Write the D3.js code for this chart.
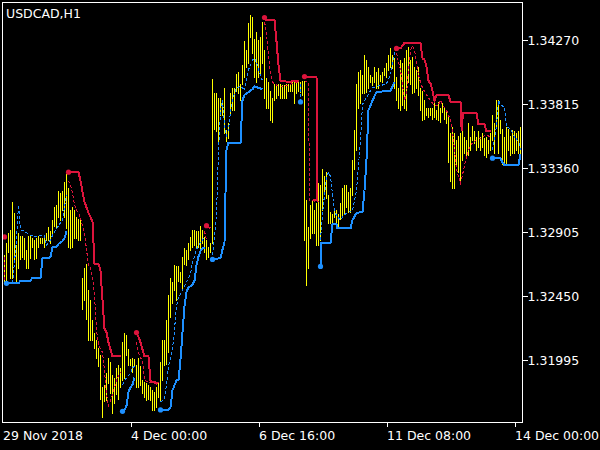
<!DOCTYPE html>
<html><head><meta charset="utf-8">
<script src="https://cdn.jsdelivr.net/npm/d3@7"></script>
<style>html,body{margin:0;padding:0;background:#000;overflow:hidden}svg{display:block}</style>
</head><body>
<svg id="chart" width="600" height="450"></svg>
<script>
const chartTitle = "USDCAD,H1";
const timeTickIndex = [0, 64, 128, 192, 256];
const timeTickLabels = ["29 Nov 2018", "4 Dec 00:00", "6 Dec 16:00", "11 Dec 08:00", "14 Dec 00:00"];
const priceTicks = [1.34270, 1.33815, 1.33360, 1.32905, 1.32450, 1.31995];

const barHigh = [
1.3274,1.3274,1.3283,1.3290,1.3292,1.3312,1.3304,1.3281,1.3290,1.3288,
1.3288,1.3286,1.3278,1.3288,1.3288,1.3286,1.3285,1.3286,1.3288,1.3286,
1.3286,1.3286,1.3290,1.3294,1.3291,1.3299,1.3308,1.3310,1.3320,1.3318,
1.3320,1.3326,1.3332,1.3322,1.3306,1.3308,1.3306,1.3301,1.3300,1.3299,
1.3258,1.3265,1.3268,1.3249,1.3242,1.3228,1.3219,1.3214,1.3208,1.3203,
1.3180,1.3182,1.3190,1.3201,1.3198,1.3189,1.3187,1.3194,1.3196,1.3194,
1.3212,1.3219,1.3217,1.3207,1.3200,1.3201,1.3200,1.3196,1.3201,1.3195,
1.3185,1.3184,1.3183,1.3182,1.3180,1.3178,1.3177,1.3180,1.3184,1.3198,
1.3214,1.3214,1.3228,1.3246,1.3258,1.3255,1.3267,1.3266,1.3266,1.3262,
1.3273,1.3279,1.3278,1.3283,1.3287,1.3292,1.3292,1.3291,1.3291,1.3295,
1.3292,1.3287,1.3285,1.3280,1.3283,1.3399,1.3389,1.3389,1.3386,1.3386,
1.3384,1.3393,1.3363,1.3368,1.3389,1.3393,1.3393,1.3403,1.3404,1.3396,
1.3409,1.3426,1.3420,1.3439,1.3445,1.3443,1.3428,1.3433,1.3427,1.3429,
1.3440,1.3420,1.3400,1.3397,1.3391,1.3386,1.3396,1.3395,1.3396,1.3396,
1.3395,1.3395,1.3396,1.3396,1.3396,1.3398,1.3397,1.3398,1.3398,1.3397,
1.3398,1.3398,1.3313,1.3294,1.3310,1.3313,1.3306,1.3311,1.3325,1.3324,
1.3335,1.3330,1.3333,1.3317,1.3305,1.3303,1.3306,1.3306,1.3303,1.3311,
1.3322,1.3324,1.3324,1.3319,1.3322,1.3342,1.3363,1.3396,1.3404,1.3406,
1.3402,1.3416,1.3413,1.3408,1.3402,1.3401,1.3408,1.3404,1.3407,1.3402,
1.3404,1.3407,1.3411,1.3416,1.3421,1.3416,1.3414,1.3401,1.3393,1.3413,
1.3411,1.3414,1.3420,1.3422,1.3413,1.3415,1.3408,1.3406,1.3408,1.3393,
1.3391,1.3384,1.3379,1.3379,1.3379,1.3379,1.3384,1.3377,1.3383,1.3379,
1.3382,1.3379,1.3377,1.3374,1.3361,1.3365,1.3361,1.3356,1.3359,1.3361,
1.3363,1.3358,1.3356,1.3368,1.3358,1.3366,1.3362,1.3358,1.3362,1.3358,
1.3361,1.3357,1.3358,1.3356,1.3361,1.3374,1.3368,1.3384,1.3384,1.3370,
1.3364,1.3358,1.3365,1.3364,1.3359,1.3363,1.3362,1.3361,1.3362,1.3365];

const barLow = [
1.3255,1.3255,1.3256,1.3276,1.3258,1.3258,1.3269,1.3256,1.3265,1.3271,
1.3273,1.3271,1.3265,1.3265,1.3272,1.3280,1.3271,1.3272,1.3280,1.3283,
1.3283,1.3280,1.3285,1.3285,1.3283,1.3290,1.3295,1.3294,1.3301,1.3299,
1.3306,1.3301,1.3293,1.3280,1.3279,1.3280,1.3286,1.3286,1.3285,1.3285,
1.3236,1.3242,1.3229,1.3214,1.3214,1.3214,1.3208,1.3201,1.3195,1.3172,
1.3159,1.3170,1.3171,1.3183,1.3176,1.3162,1.3169,1.3175,1.3172,1.3180,
1.3185,1.3187,1.3203,1.3196,1.3196,1.3191,1.3195,1.3180,1.3180,1.3182,
1.3176,1.3173,1.3171,1.3172,1.3171,1.3164,1.3164,1.3166,1.3173,1.3170,
1.3185,1.3196,1.3197,1.3205,1.3230,1.3240,1.3249,1.3242,1.3256,1.3255,
1.3251,1.3268,1.3267,1.3271,1.3278,1.3280,1.3281,1.3280,1.3280,1.3278,
1.3283,1.3276,1.3271,1.3273,1.3276,1.3283,1.3364,1.3362,1.3354,1.3374,
1.3374,1.3361,1.3355,1.3357,1.3375,1.3377,1.3377,1.3391,1.3389,1.3384,
1.3396,1.3401,1.3408,1.3411,1.3429,1.3418,1.3401,1.3397,1.3401,1.3402,
1.3411,1.3386,1.3379,1.3379,1.3370,1.3369,1.3384,1.3386,1.3388,1.3386,
1.3386,1.3386,1.3386,1.3391,1.3391,1.3391,1.3382,1.3389,1.3391,1.3390,
1.3388,1.3285,1.3253,1.3265,1.3286,1.3290,1.3290,1.3281,1.3281,1.3285,
1.3306,1.3319,1.3315,1.3297,1.3297,1.3297,1.3301,1.3294,1.3294,1.3300,
1.3301,1.3303,1.3308,1.3305,1.3305,1.3317,1.3335,1.3349,1.3379,1.3382,
1.3389,1.3389,1.3390,1.3393,1.3397,1.3395,1.3397,1.3393,1.3393,1.3398,
1.3397,1.3402,1.3401,1.3406,1.3408,1.3407,1.3393,1.3384,1.3379,1.3377,
1.3381,1.3379,1.3377,1.3397,1.3396,1.3389,1.3390,1.3393,1.3388,1.3377,
1.3370,1.3371,1.3374,1.3372,1.3374,1.3371,1.3372,1.3371,1.3370,1.3369,
1.3376,1.3371,1.3368,1.3340,1.3327,1.3322,1.3322,1.3339,1.3333,1.3325,
1.3342,1.3347,1.3344,1.3345,1.3349,1.3356,1.3354,1.3349,1.3351,1.3349,
1.3351,1.3345,1.3344,1.3347,1.3349,1.3356,1.3347,1.3365,1.3347,1.3361,
1.3339,1.3338,1.3339,1.3349,1.3345,1.3347,1.3347,1.3349,1.3347,1.3347];

// solid stop lines: [bar index, price]
const redStops = [
  [[33,1.3333],[38,1.3333],[39,1.3327],[40,1.3319],[41,1.3312],[42,1.3308],[43,1.3304],[44,1.3301],[45,1.3298],[46,1.3268],[48,1.3268],[49,1.3263],[50,1.3242],[51,1.3222],[52,1.3219],[53,1.3212],[54,1.3207],[55,1.3202],[59,1.3202]],
  [[67,1.3219],[68,1.3216],[69,1.3212],[70,1.3207],[71,1.3202],[73,1.3202],[74,1.3185],[75,1.3184],[78,1.3183]],
  [[102,1.3295],[104,1.3293]],
  [[131,1.3441],[135,1.3441],[136,1.3441],[137,1.3426],[138,1.3409],[139,1.3398],[144,1.3397],[145,1.3398],[148,1.3398]],
  [[151,1.3401],[157,1.3401],[157.5,1.3313],[155,1.3313]],
  [[197,1.3421],[199,1.3421],[201,1.3425],[209,1.3425],[210,1.3414],[211,1.3413],[212,1.3408],[213,1.3398],[214,1.3396],[215,1.3391],[216,1.3384],[217,1.3388],[223,1.3388],[224,1.3383],[229,1.3383],[229.6,1.3362],[230.2,1.3375],[237,1.3375],[238,1.3367],[241,1.3367],[242,1.3362],[244,1.3362]]
];
const blueStops = [
  [[2,1.3254],[8,1.3254],[9,1.3256],[14,1.3256],[15,1.3258],[19,1.3258],[20,1.3272],[23,1.3272],[24,1.3273],[25,1.3280],[27,1.3280],[28,1.3282],[30,1.3284],[31,1.3286],[32,1.3291]],
  [[60,1.3163],[61,1.3164],[62,1.3167],[63,1.3177],[64,1.3180],[65,1.3182],[66,1.3187]],
  [[79,1.3164],[83,1.3164],[84,1.3166],[85,1.3178],[87,1.3185],[88,1.3185],[89,1.3200],[90,1.3219],[91,1.3238],[92,1.3248],[93,1.3251],[95,1.3253],[96,1.3256],[97,1.3267],[98,1.3273],[99,1.3277],[100,1.3279],[101,1.3279]],
  [[105,1.3271],[109,1.3272],[110,1.3278],[111,1.3283],[111.5,1.3318],[112,1.3349],[113,1.3354],[119,1.3354],[120,1.3384],[121,1.3388],[123,1.3390],[125,1.3392],[126,1.3394],[128,1.3393],[130,1.3392]],
  [[159,1.3266],[159.5,1.3283],[164,1.3283],[165,1.3296],[167,1.3296],[167.3,1.3293],[174,1.3293],[175,1.3299],[177,1.3304],[180,1.3305],[181,1.3320],[182,1.3342],[183,1.3377],[185,1.3384],[187,1.3390],[194,1.3391],[195,1.3394],[196,1.3397]],
  [[245,1.3343],[249,1.3343],[250,1.3340],[251,1.3338],[258,1.3338],[259,1.3346]]
];
// dotted signal lines
const redDotted = [
  [[1,1.3273],[1,1.3256]],
  [[33,1.3327],[34,1.3324],[35,1.3318],[36,1.3310],[37,1.3306],[38,1.3304],[39,1.3300],[40,1.3295],[41,1.3290],[42,1.3278],[43,1.3267],[44,1.3265],[45,1.3258],[46,1.3246],[47,1.3221],[48,1.3210],[50,1.3205],[51,1.3192],[52,1.3175],[53,1.3167],[55,1.3175],[57,1.3185],[59,1.3191]],
  [[67,1.3212],[68,1.3205],[69,1.3201],[70,1.3200],[71,1.3185],[73,1.3184],[78,1.3182]],
  [[101,1.3291],[102,1.3285]],
  [[131,1.3440],[132,1.3432],[133,1.3415],[134,1.3404],[135,1.3397],[137,1.3395],[140,1.3394],[143,1.3395],[145,1.3396],[148,1.3397]],
  [[151,1.3398],[153,1.3397],[153.5,1.3313],[158,1.3312]],
  [[197,1.3418],[198,1.3411],[199,1.3406],[200,1.3395],[201,1.3384],[202,1.3388],[203,1.3406],[204,1.3420],[205,1.3423],[206,1.3420],[207,1.3411],[208,1.3402],[209,1.3397],[210,1.3393],[212,1.3388],[214,1.3384],[215,1.3382],[216,1.3380],[218,1.3381],[219,1.3384],[220,1.3381],[222,1.3377],[224,1.3370],[225,1.3362],[226,1.3349],[227,1.3335],[229,1.3325],[230,1.3331],[231,1.3338],[233,1.3349],[235,1.3354],[237,1.3356],[239,1.3357],[241,1.3359],[243,1.3359],[244,1.3357]]
];
const blueDotted = [
  [[5,1.3254],[6,1.3269],[7,1.3285],[8,1.3310],[9,1.3292],[11,1.3291],[14,1.3288],[15,1.3288],[17,1.3287],[19,1.3288],[21,1.3288],[22,1.3281],[24,1.3285],[25,1.3288],[27,1.3293],[28,1.3295],[29,1.3297],[30,1.3299],[31,1.3308],[32,1.3317]],
  [[60,1.3182],[62,1.3187],[64,1.3190],[65,1.3194],[66,1.3195]],
  [[79,1.3170],[81,1.3171],[82,1.3182],[83,1.3195],[85,1.3207],[86,1.3221],[87,1.3238],[88,1.3244],[90,1.3249],[92,1.3255],[94,1.3261],[95,1.3269],[96,1.3273],[97,1.3278],[98,1.3281],[100,1.3285],[101,1.3287]],
  [[105,1.3274],[106,1.3288],[107,1.3303],[108,1.3349],[109,1.3377],[110,1.3384],[111,1.3366],[112,1.3359],[113,1.3363],[114,1.3376],[115,1.3384],[116,1.3389],[117,1.3393],[119,1.3394],[120,1.3393],[121,1.3391],[122,1.3398],[123,1.3406],[124,1.3409],[125,1.3413],[126,1.3414],[127,1.3411],[128,1.3406],[130,1.3398]],
  [[149,1.3396],[149,1.3384]],
  [[159,1.3285],[160,1.3303],[161,1.3317],[162,1.3329],[163,1.3333],[164,1.3330],[165,1.3317],[166,1.3306],[167,1.3302],[169,1.3299],[170,1.3301],[172,1.3304],[174,1.3305],[175,1.3306],[176,1.3313],[177,1.3320],[178,1.3338],[179,1.3356],[180,1.3381],[181,1.3384],[182,1.3386],[184,1.3391],[185,1.3393],[187,1.3394],[190,1.3395],[192,1.3396],[194,1.3402],[195,1.3411],[196,1.3418],[197,1.3418]],
  [[245,1.3349],[246,1.3356],[247,1.3366],[248,1.3384],[249,1.3381],[251,1.3379],[252,1.3365],[254,1.3364],[256,1.3358],[258,1.3355],[259,1.3349]]
];
const redSignals = [[1,1.3287],[33,1.3333],[67,1.3219],[102,1.3295],[131,1.3443],[151,1.3401],[197,1.3421]];
const blueSignals = [[2,1.3254],[60,1.3163],[79,1.3164],[105,1.3271],[149,1.3383],[159,1.3266],[245,1.3343]];

const W = 600, H = 450;
const plotLeft = 2.5, plotRight = 522.5, plotTop = 2.5, plotBottom = 422.5;
const RED = "#dc143c", BLUE = "#1e90ff", YELLOW = "#ffff00", FG = "#ffffff";
const FONT = "'DejaVu Sans', sans-serif";

const svg = d3.select("#chart");
svg.append("rect").attr("width", W).attr("height", H).attr("fill", "#000");

const x = d3.scaleLinear().domain([0, 260]).range([plotLeft, plotRight]);
const y = d3.scaleLinear().domain([1.31995, 1.34270]).range([360, 40]);

const plot = svg.append("g");
plot.append("g").selectAll("line").data(barHigh.map((h, i) => ({i, h, l: barLow[i]})))
  .join("line")
  .attr("x1", d => x(d.i)).attr("x2", d => x(d.i))
  .attr("y1", d => Math.round(y(d.h))).attr("y2", d => Math.round(y(d.l)) + 1)
  .attr("stroke", YELLOW).attr("stroke-width", 1).attr("shape-rendering", "crispEdges");

const line = d3.line().x(d => x(d[0])).y(d => y(d[1]));
function drawLines(sets, color, width, dash) {
  plot.append("g").selectAll("path").data(sets).join("path")
    .attr("d", line).attr("fill", "none").attr("stroke", color)
    .attr("stroke-width", width).attr("stroke-dasharray", dash)
    .attr("stroke-linejoin", "miter").attr("shape-rendering", "crispEdges");
}
drawLines(redDotted, RED, 1, "3,2");
drawLines(blueDotted, BLUE, 1, "3,2");
drawLines(redStops, RED, 2, null);
drawLines(blueStops, BLUE, 2, null);

plot.append("g").selectAll("circle").data(redSignals).join("circle")
  .attr("cx", d => x(d[0])).attr("cy", d => y(d[1])).attr("r", 2.6).attr("fill", RED);
plot.append("g").selectAll("circle").data(blueSignals).join("circle")
  .attr("cx", d => x(d[0])).attr("cy", d => y(d[1])).attr("r", 2.6).attr("fill", BLUE);

svg.append("rect").attr("x", plotLeft).attr("y", plotTop).attr("width", plotRight - plotLeft).attr("height", plotBottom - plotTop)
  .attr("fill", "none").attr("stroke", FG).attr("stroke-width", 1).attr("shape-rendering", "crispEdges");

const yAxis = svg.append("g").attr("transform", `translate(${plotRight},0)`)
  .call(d3.axisRight(y).tickValues(priceTicks).tickFormat(d3.format(".5f")).tickSize(5).tickPadding(1));
yAxis.select(".domain").remove();
yAxis.selectAll("line").attr("stroke", FG).attr("shape-rendering", "crispEdges");
yAxis.selectAll("text").attr("fill", FG).attr("x", 5).style("font-family", FONT).style("font-size", "12.5px");

const xAxis = svg.append("g").attr("transform", `translate(0,${plotBottom})`)
  .call(d3.axisBottom(x).tickValues(timeTickIndex).tickFormat((d, i) => timeTickLabels[i]).tickSize(4));
xAxis.select(".domain").remove();
xAxis.selectAll("line").attr("stroke", FG).attr("shape-rendering", "crispEdges")
  .attr("opacity", (d, i) => i === 0 ? 0 : 1);
xAxis.selectAll("text").attr("fill", FG).attr("y", 17.5).attr("dy", 0).attr("x", 0)
  .style("text-anchor", "start").style("font-family", FONT).style("font-size", "12.5px");

svg.append("text").attr("x", 6).attr("y", 18).attr("fill", FG)
  .style("font-family", FONT).style("font-size", "12.5px").text(chartTitle);
</script>
</body></html>
